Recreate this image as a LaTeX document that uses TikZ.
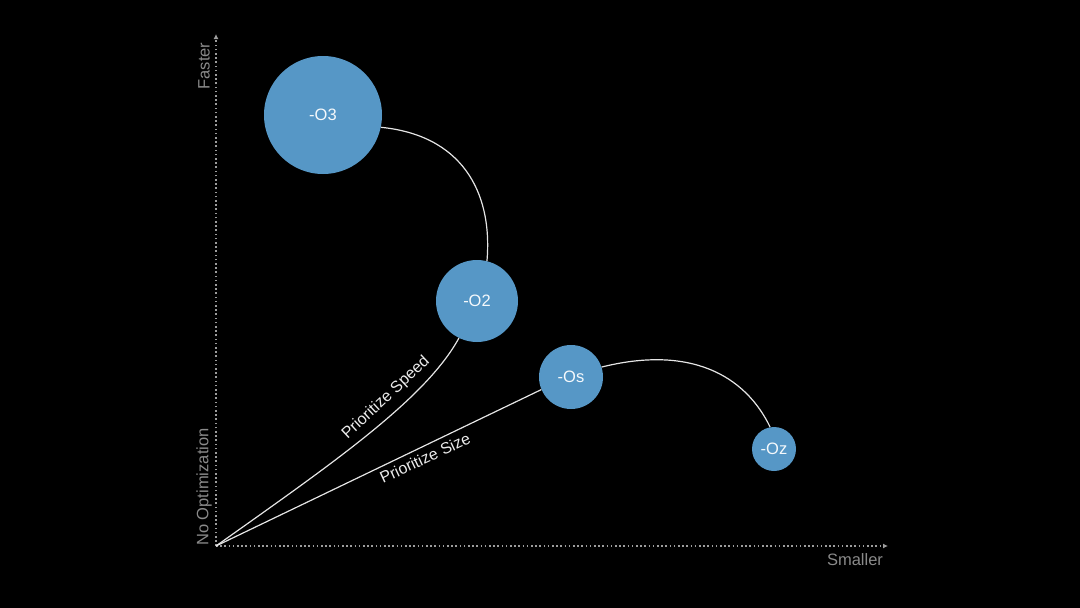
\documentclass[tikz,border=0pt]{standalone}
\usepackage{fontspec}
\setmainfont{Liberation Sans}
\usetikzlibrary{arrows.meta}
\definecolor{ball}{HTML}{5697C6}
\definecolor{axisgray}{HTML}{8A8A8A}
\begin{document}
\begin{tikzpicture}[x=1pt,y=-1pt,
  ball/.style={circle,fill=ball,draw=none,inner sep=0pt,text=white!94!ball,font=\fontsize{16.5}{18}\selectfont},
  axis/.style={axisgray!85!white,line width=1.6pt,dash pattern=on 1.6pt off 2.6pt,-{Latex[length=5pt,width=5pt]}},
  axlabel/.style={text=axisgray,font=\fontsize{16.5}{18}\selectfont},
  link/.style={white!90!black,line width=1.2pt},
  linklabel/.style={text=white!92!black,font=\fontsize{16}{18}\selectfont}]
\fill[black] (0,0) rectangle (1080,608);
\useasboundingbox (0,0) rectangle (1080,608);
\coordinate (origin) at (216,546);
\coordinate (ytop) at (216,34);
\coordinate (xend) at (888,546);
\draw[axis] (origin) -- (ytop);
\draw[axis] (origin) -- (xend);
\node[axlabel,rotate=90] (faster) at (204,66) {Faster};
\node[axlabel,rotate=90] (noopt) at (204,487) {No Optimization};
\node[axlabel] (smaller) at (855,560) {Smaller};
\node[ball,minimum size=118pt] (o3) at (323,115) {-O3};
\node[ball,minimum size=82pt] (o2) at (477,301) {-O2};
\node[ball,minimum size=64pt] (os) at (571,377) {-Os};
\node[ball,minimum size=44pt] (oz) at (774,449) {-Oz};
\draw[link] (o3.-12) .. controls (460,135) and (493,190) .. (o2.76);
\draw[link] (origin) .. controls (330,465) and (425,400) .. (o2.-116);
\draw[link] (origin) -- (os.-157);
\draw[link] (os.18) .. controls (690,345) and (745,375) .. (oz.100);
\node[linklabel,rotate=43] (speed) at (386,398) {Prioritize Speed};
\node[linklabel,rotate=25] (size) at (425,458) {Prioritize Size};
\end{tikzpicture}
\end{document}
